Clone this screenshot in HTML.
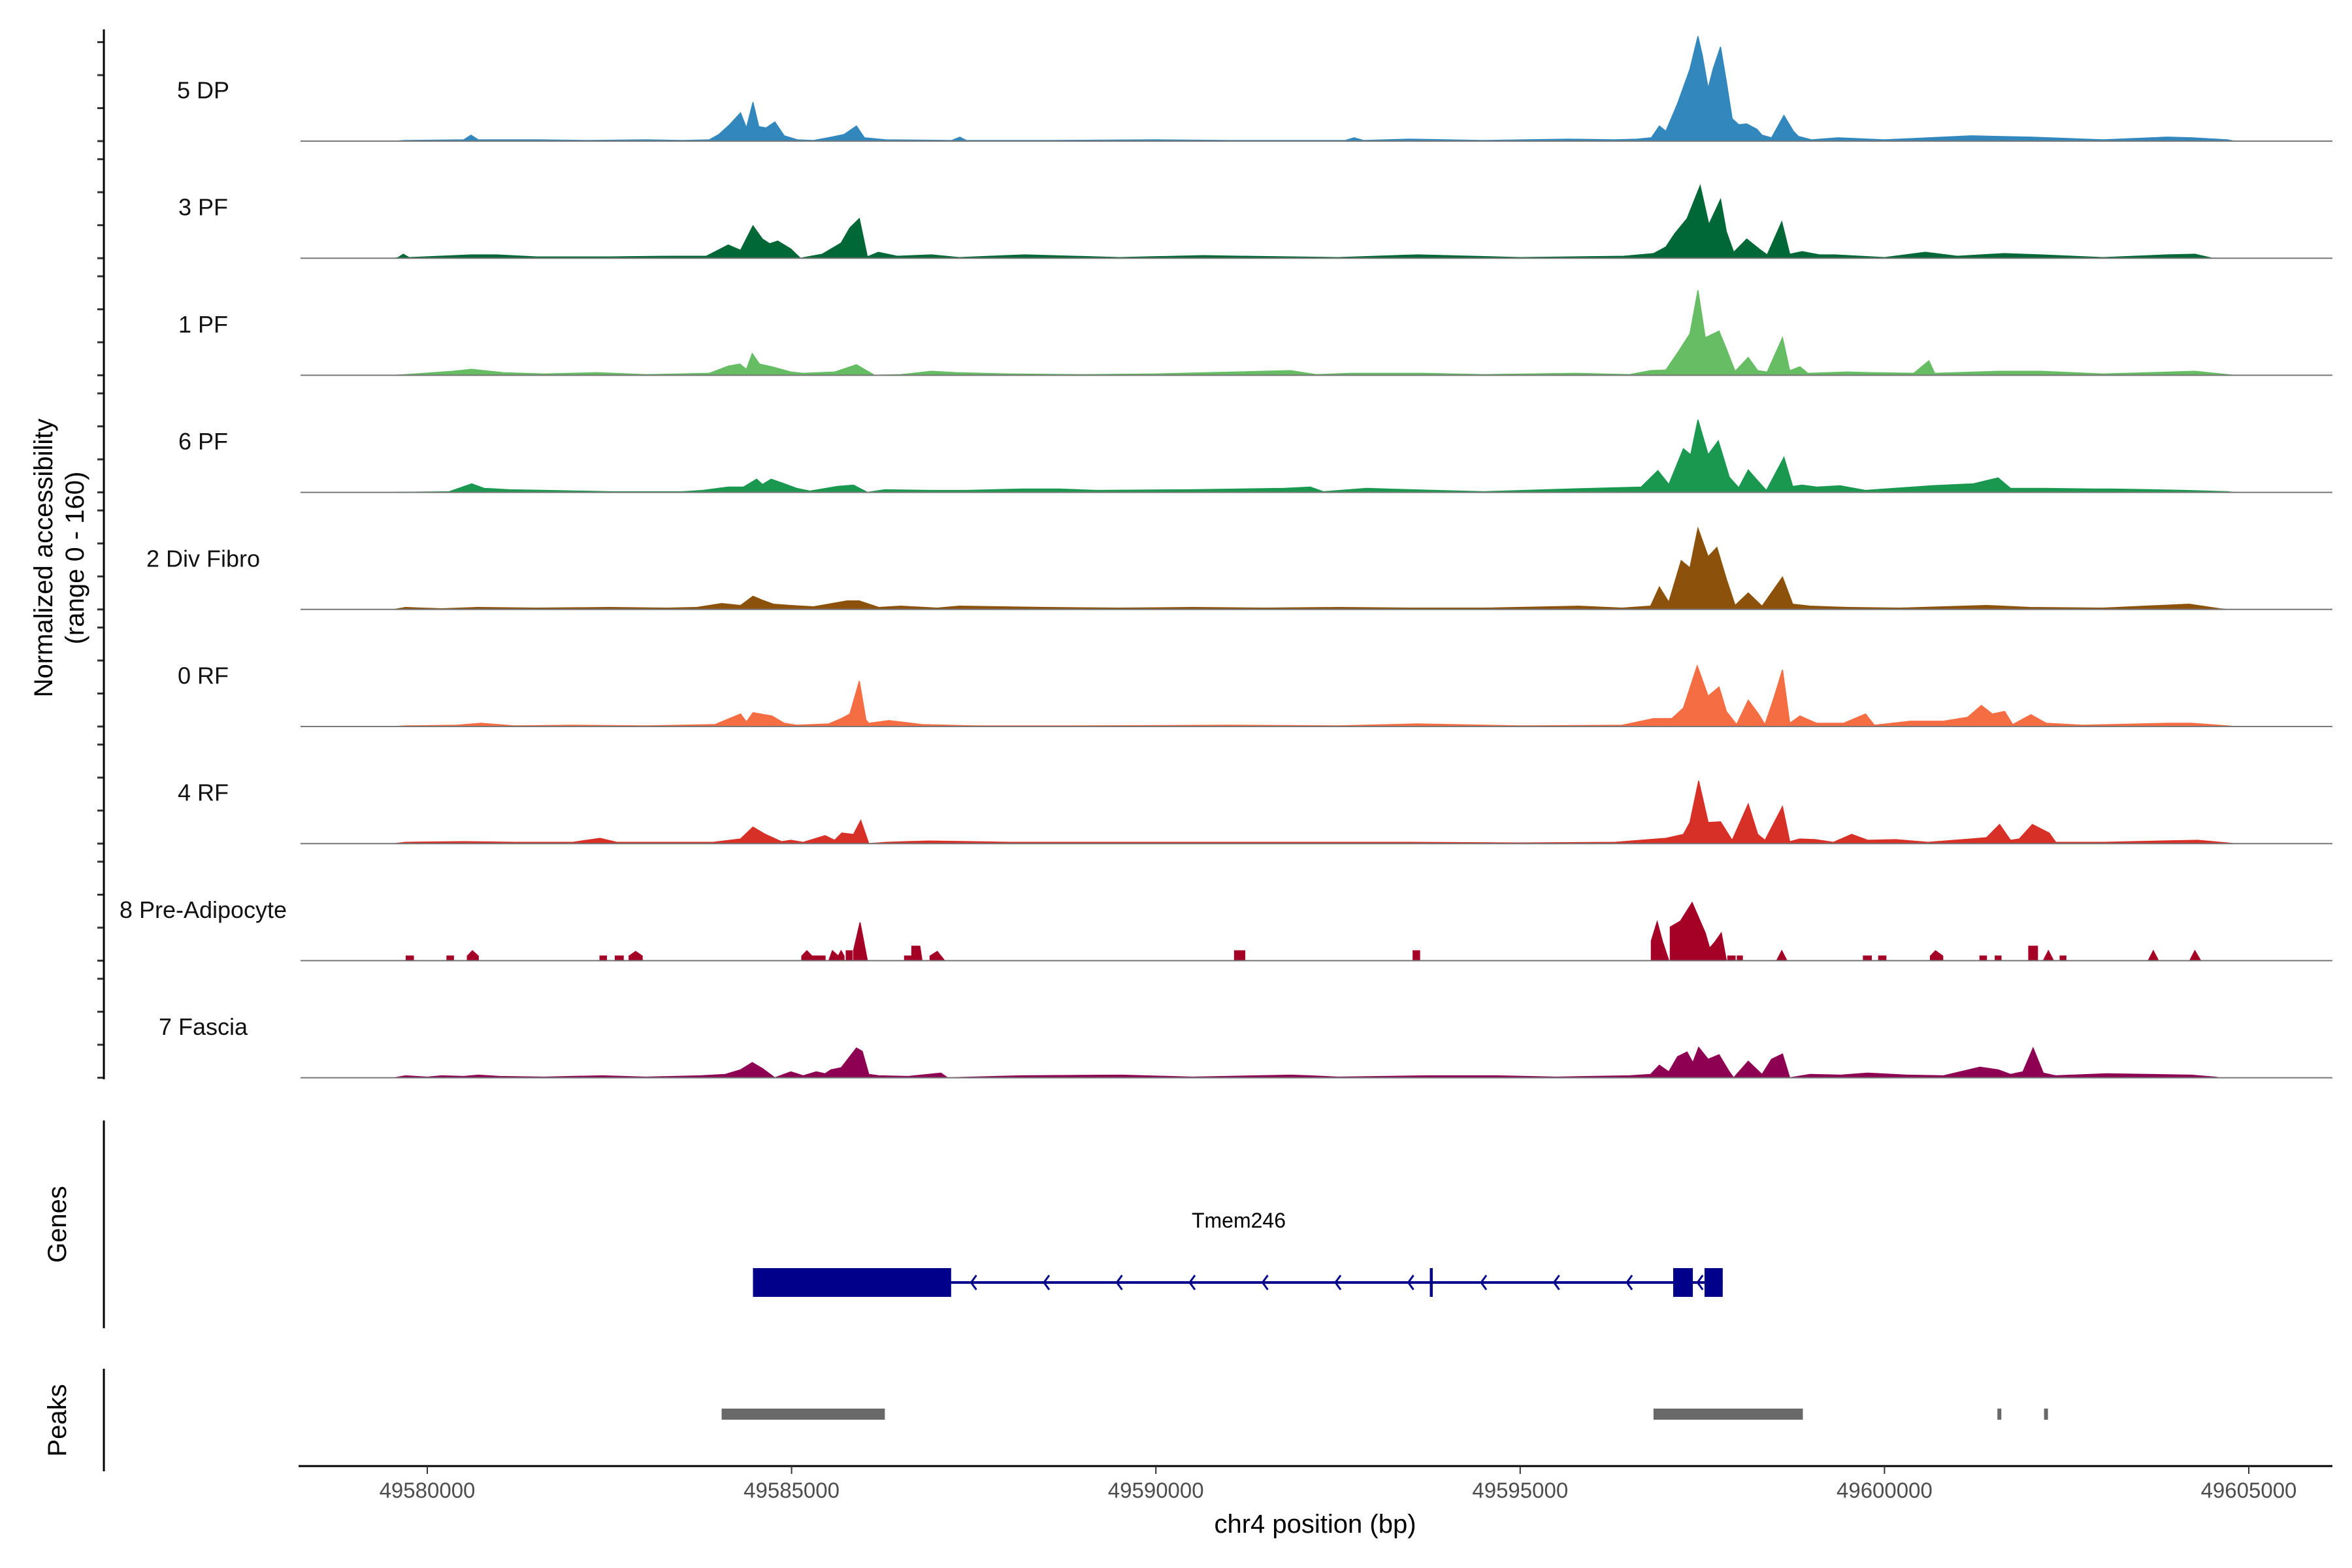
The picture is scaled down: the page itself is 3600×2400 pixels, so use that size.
<!DOCTYPE html>
<html><head><meta charset="utf-8">
<style>
html,body{margin:0;padding:0;background:#fff;}
svg{display:block;font-family:"Liberation Sans",Arial,sans-serif;}
</style></head>
<body>
<svg id="chart" width="3600" height="2400" viewBox="0 0 3600 2400" xmlns="http://www.w3.org/2000/svg">
<rect width="3600" height="2400" fill="#fff"/>
<g id="tracks"></g>
<g id="yaxis"></g>
<text transform="translate(67,854) rotate(-90)" text-anchor="middle" dominant-baseline="central" font-size="40" fill="#000">Normalized accessibility</text>
<text transform="translate(115,854) rotate(-90)" text-anchor="middle" dominant-baseline="central" font-size="40" fill="#000">(range 0 - 160)</text>
<g id="genes"></g>
<line x1="159" y1="1715" x2="159" y2="2033" stroke="#000" stroke-width="3"/>
<text transform="translate(88,1874) rotate(-90)" text-anchor="middle" dominant-baseline="central" font-size="40" fill="#000">Genes</text>
<g id="peaks"></g>
<line x1="159" y1="2095" x2="159" y2="2252" stroke="#000" stroke-width="3"/>
<text transform="translate(88,2174) rotate(-90)" text-anchor="middle" dominant-baseline="central" font-size="40" fill="#000">Peaks</text>
<g id="xaxis"></g>
<text x="2013" y="2333" text-anchor="middle" dominant-baseline="central" font-size="40" fill="#000">chr4 position (bp)</text>
</svg>
<script>
// positions in kb relative to 49,580,000 ; values in normalized accessibility
const trackNames = ["5 DP","3 PF","1 PF","6 PF","2 Div Fibro","0 RF","4 RF","8 Pre-Adipocyte","7 Fascia"];
const trackColors = ["#3288BD","#006837","#66BD63","#1A9850","#8C510A","#F46D43","#D73027","#A50026","#8E0152"];
const dp5 = [[-0.45,0],[-0.3,1],[0.5,2],[0.6,9],[0.7,2],[1.5,2],[2.2,1],[3.0,2],[3.5,1],[3.87,2],[4.0,10],[4.15,25],[4.3,43],[4.38,20],[4.47,59],[4.55,22],[4.65,20],[4.77,29],[4.9,8],[5.08,2],[5.3,1],[5.5,5],[5.72,10],[5.89,23],[6.0,5],[6.3,2],[7.2,1],[7.31,6],[7.4,1],[8.5,1],[10,2],[11,1],[12.6,1],[12.72,5],[12.85,1],[13.47,3],[14.5,1],[15.66,3],[16.3,2],[16.6,3],[16.8,5],[16.91,23],[17.0,15],[17.16,57],[17.33,109],[17.44,159],[17.5,130],[17.58,80],[17.65,110],[17.75,143],[17.83,90],[17.91,34],[18.0,25],[18.11,26],[18.25,18],[18.32,9],[18.45,5],[18.62,39],[18.75,15],[18.82,7],[19.0,2],[19.36,5],[20,2],[21.19,8],[22.01,6],[23,2],[23.88,6],[24.21,5],[24.71,2],[24.8,0]];
const pf3 = [[-0.45,0],[-0.4,1],[-0.33,6],[-0.25,1],[0.61,5],[0.95,5],[1.5,2],[2.5,2],[3.35,3],[3.83,3],[4.13,20],[4.3,12],[4.47,49],[4.6,29],[4.7,22],[4.81,26],[4.99,14],[5.12,0],[5.42,6],[5.68,23],[5.8,46],[5.93,60],[6.04,2],[6.19,9],[6.45,3],[6.92,5],[7.3,1],[8.2,5],[9.5,1],[10.65,4],[11.16,3],[12.5,1],[13.59,5],[15,1],[16.42,3],[16.83,7],[17.0,17],[17.12,37],[17.29,60],[17.47,110],[17.59,51],[17.75,89],[17.83,40],[17.93,9],[18.11,29],[18.28,14],[18.39,5],[18.59,55],[18.7,6],[18.87,10],[19.11,5],[19.32,5],[20,1],[20.56,9],[21.0,3],[21.64,7],[22.14,5],[23,1],[23.88,5],[24.26,6],[24.46,1],[24.5,0]];
const pf1 = [[-0.45,0],[-0.3,1],[0.35,6],[0.61,9],[1.04,4],[1.6,2],[2.33,4],[3.0,1],[3.87,3],[4.13,14],[4.29,17],[4.38,9],[4.46,33],[4.56,17],[4.73,13],[4.99,5],[5.16,3],[5.59,5],[5.89,16],[6.14,0],[6.5,1],[6.92,6],[7.26,4],[8,2],[9,1],[10,2],[11.85,7],[12.2,1],[12.68,3],[13.68,3],[14.5,1],[15.76,3],[16.5,1],[16.79,7],[17.0,8],[17.16,34],[17.33,63],[17.44,129],[17.54,57],[17.73,67],[17.83,40],[17.95,6],[18.13,27],[18.26,7],[18.39,5],[18.6,57],[18.7,7],[18.84,13],[18.95,3],[19.49,5],[19.82,4],[20.4,3],[20.61,22],[20.69,3],[21.56,6],[22.14,6],[23,2],[24.26,6],[24.71,1],[24.8,0]];
const pf6 = [[-0.45,0],[0.3,1],[0.61,13],[0.78,6],[1.13,4],[1.64,3],[2.5,1],[3.5,1],[3.78,3],[4.13,8],[4.34,8],[4.52,20],[4.6,12],[4.72,20],[4.9,13],[5.07,6],[5.25,2],[5.63,9],[5.85,11],[6.04,0],[6.28,4],[6.9,3],[7.4,3],[8.16,5],[8.68,5],[9.19,3],[10.48,4],[11.76,6],[12.12,8],[12.3,1],[12.89,6],[13.51,4],[14.5,1],[15.67,5],[16.0,6],[16.66,8],[16.89,33],[17.04,12],[17.24,66],[17.34,57],[17.44,110],[17.58,57],[17.72,78],[17.87,23],[18.0,7],[18.13,34],[18.24,20],[18.38,3],[18.62,53],[18.74,9],[18.87,11],[19.07,8],[19.39,10],[19.74,3],[20.64,10],[21.22,13],[21.56,22],[21.73,6],[22.18,6],[22.88,5],[23.13,5],[24.13,3],[24.71,1],[24.8,0]];
const fibro2 = [[-0.45,0],[-0.3,3],[0.2,1],[0.7,3],[1.5,2],[2.5,3],[3.3,2],[3.7,3],[4.04,9],[4.3,6],[4.47,20],[4.6,14],[4.75,8],[4.99,6],[5.3,4],[5.76,13],[5.93,13],[6.2,3],[6.5,5],[7.0,2],[7.3,5],[8.5,3],[9.5,2],[10.5,3],[11.5,2],[12.5,3],[13.5,2],[14.5,2],[15.79,5],[16.4,2],[16.79,5],[16.91,34],[17.04,11],[17.21,74],[17.33,63],[17.44,123],[17.58,80],[17.7,94],[17.83,46],[17.95,6],[18.13,25],[18.32,5],[18.6,49],[18.74,8],[18.98,5],[19.5,3],[20.2,2],[21.4,6],[22,3],[23,2],[24.18,8],[24.6,1],[24.7,0]];
const rf0 = [[-0.45,0],[-0.3,1],[0.4,2],[0.74,5],[1.2,1],[2.0,2],[3.0,1],[3.95,3],[4.3,19],[4.38,7],[4.47,21],[4.73,16],[4.9,5],[5.07,2],[5.51,4],[5.68,12],[5.8,19],[5.93,69],[6.02,10],[6.06,5],[6.34,9],[6.79,3],[7.5,1],[9,1],[11,2],[12.5,1],[13.59,4],[15,1],[16.4,2],[16.83,12],[17.08,12],[17.24,28],[17.43,92],[17.58,46],[17.73,60],[17.83,23],[17.97,3],[18.13,40],[18.27,19],[18.36,3],[18.49,46],[18.6,86],[18.7,5],[18.84,16],[19.07,5],[19.44,5],[19.74,19],[19.86,2],[20.36,8],[20.81,8],[21.14,14],[21.33,32],[21.48,19],[21.65,23],[21.76,3],[22.01,18],[22.22,5],[22.72,2],[23.88,5],[24.21,5],[24.71,1],[24.8,0]];
const rf4 = [[-0.45,0],[-0.3,2],[0.5,3],[1.2,2],[2.0,2],[2.37,8],[2.6,2],[3.3,2],[3.92,2],[4.3,7],[4.47,25],[4.64,14],[4.86,3],[4.99,5],[5.16,2],[5.46,12],[5.59,5],[5.69,16],[5.85,14],[5.95,35],[6.06,0],[6.3,2],[6.88,4],[8,2],[10,2],[12,2],[13.5,2],[15,1],[16.3,2],[17.0,8],[17.24,14],[17.33,32],[17.45,95],[17.58,32],[17.75,33],[17.91,5],[18.13,60],[18.26,14],[18.36,5],[18.6,56],[18.7,3],[18.84,7],[19.05,6],[19.3,2],[19.55,14],[19.77,5],[20.15,6],[20.6,2],[21.19,7],[21.4,9],[21.58,29],[21.73,5],[21.85,7],[22.03,29],[22.26,16],[22.35,2],[23,2],[24.3,5],[24.71,1],[24.8,0]];
const preAdipo = [[-0.29,0],[-0.29,7],[-0.19,7],[-0.19,0],[0.27,0],[0.27,7],[0.36,7],[0.36,0],[0.55,0],[0.55,7],[0.62,15],[0.7,7],[0.7,0],[2.37,0],[2.37,7],[2.46,7],[2.46,0],[2.58,0],[2.58,7],[2.69,7],[2.69,0],[2.77,0],[2.77,7],[2.86,14],[2.95,7],[2.95,0],[5.14,0],[5.14,7],[5.21,15],[5.28,7],[5.46,7],[5.46,0],[5.51,0],[5.56,15],[5.64,7],[5.68,15],[5.72,7],[5.72,0],[5.75,0],[5.75,15],[5.83,15],[5.83,0],[5.85,0],[5.85,15],[5.94,58],[6.04,0],[6.55,0],[6.55,7],[6.65,7],[6.65,22],[6.76,22],[6.79,0],[6.9,0],[6.9,7],[7.0,14],[7.1,0],[11.08,0],[11.08,15],[11.22,15],[11.22,0],[13.53,0],[13.53,15],[13.62,15],[13.62,0],[16.8,0],[16.8,30],[16.88,59],[16.95,30],[17.04,0],[17.06,0],[17.06,51],[17.2,60],[17.36,88],[17.45,65],[17.54,42],[17.6,19],[17.67,28],[17.76,42],[17.83,0],[17.85,0],[17.85,7],[17.95,7],[17.95,0],[17.98,0],[17.98,7],[18.05,7],[18.05,0],[18.52,0],[18.59,15],[18.66,0],[19.71,0],[19.71,7],[19.82,7],[19.82,0],[19.92,0],[19.92,7],[20.02,7],[20.02,0],[20.63,0],[20.63,7],[20.7,15],[20.8,7],[20.8,0],[21.31,0],[21.31,7],[21.4,7],[21.4,0],[21.52,0],[21.52,7],[21.6,7],[21.6,0],[21.98,0],[21.98,22],[22.1,22],[22.1,0],[22.18,0],[22.25,15],[22.32,0],[22.41,0],[22.41,7],[22.49,7],[22.49,0],[23.62,0],[23.69,15],[23.76,0],[24.19,0],[24.26,15],[24.34,0]];
const fascia7 = [[-0.45,0],[-0.3,3],[0.0,1],[0.2,3],[0.5,2],[0.7,4],[1.0,2],[1.6,1],[2.4,3],[3.0,1],[3.75,3],[4.09,5],[4.3,12],[4.46,23],[4.6,14],[4.77,0],[4.99,9],[5.16,3],[5.34,9],[5.46,6],[5.54,12],[5.68,15],[5.89,45],[5.97,40],[6.06,5],[6.2,3],[6.6,2],[7.05,7],[7.14,0],[8.16,3],[9.53,4],[10.5,1],[11.85,4],[12.11,3],[12.5,1],[13.76,3],[14.67,3],[15.5,1],[16.5,3],[16.79,5],[16.91,19],[17.04,9],[17.16,32],[17.29,39],[17.37,23],[17.45,46],[17.58,28],[17.73,35],[17.87,9],[17.93,0],[18.13,25],[18.32,5],[18.45,28],[18.6,36],[18.7,0],[18.98,5],[19.4,4],[19.77,7],[20.31,4],[20.81,3],[21.31,16],[21.56,12],[21.73,5],[21.9,9],[22.04,45],[22.18,7],[22.35,3],[23.05,6],[24.21,4],[24.54,1],[24.6,0]];
const trackData = [dp5, pf3, pf1, pf6, fibro2, rf0, rf4, preAdipo, fascia7];
const yTicks = [0,50,100,150];
const xTicks = [0,5,10,15,20,25];
const xTickLabels = ["49580000","49585000","49590000","49595000","49600000","49605000"];
const geneExons = [[4.47,7.19],[13.76,13.80],[17.10,17.37],[17.53,17.78]];
const geneSpan = [4.47,17.78];
const arrowsKb = [7.5,8.5,9.5,10.5,11.5,12.5,13.5,14.5,15.5,16.5,17.47];
const peakStarts = [4.04,16.83,21.55,22.19];
const peakEnds = [6.28,18.88,21.60,22.24];

const NS = "http://www.w3.org/2000/svg";
function xS(kb){ return 654 + 111.52*kb; }
function base(i){ return 216 + 179.2*i; }
function yS(i,v){ return base(i) - 1.01*v; }
function mk(tag, attrs, parent){ const e=document.createElementNS(NS,tag); for(const k in attrs) e.setAttribute(k,attrs[k]); parent.appendChild(e); return e; }

const gT = document.getElementById('tracks');
const gY = document.getElementById('yaxis');
trackData.forEach((d,i)=>{
  let p = "M"+xS(d[0][0]).toFixed(1)+","+base(i).toFixed(1);
  d.forEach(pt=>{ p += " L"+xS(pt[0]).toFixed(1)+","+yS(i,pt[1]).toFixed(1); });
  p += " L"+xS(d[d.length-1][0]).toFixed(1)+","+base(i).toFixed(1)+" Z";
  const area = mk('path',{d:p, fill:trackColors[i], stroke:trackColors[i], 'stroke-width':1.5}, gT);
  
  
  const bl = mk('line',{x1:460,x2:3570,y1:base(i),y2:base(i),stroke:'#777','stroke-width':2}, gT);
  
  
  const lab = mk('text',{x:311,y:base(i)-78,'text-anchor':'middle','dominant-baseline':'central','font-size':36,fill:'#111'}, gT);
  lab.textContent = trackNames[i];
  
  
  yTicks.forEach(t=>{
    const tk = mk('line',{x1:149,x2:159,y1:yS(i,t),y2:yS(i,t),stroke:'#333','stroke-width':3}, gY);
    
    
  });
});
const yl = mk('line',{x1:159,x2:159,y1:45,y2:1652,stroke:'#000','stroke-width':3}, gY);



// genes
const gG = document.getElementById('genes');
const gl = mk('line',{x1:xS(geneSpan[0]),x2:xS(geneSpan[1]),y1:1963,y2:1963,stroke:'#00008B','stroke-width':4}, gG);


geneExons.forEach(e=>{
  const r = mk('rect',{x:xS(e[0]),y:1941,width:Math.max(4,xS(e[1])-xS(e[0])),height:44,fill:'#00008B'}, gG);
  
  
});
arrowsKb.forEach(a=>{
  const x = xS(a);
  const ar = mk('path',{d:`M${x+4},${1952} L${x-4},${1963} L${x+4},${1974}`,fill:'none',stroke:'#00008B','stroke-width':3}, gG);
  
  
});
const gn = mk('text',{x:1896,y:1868,'text-anchor':'middle','dominant-baseline':'central','font-size':32,fill:'#000'}, gG);
gn.textContent = 'Tmem246';



// peaks
const gP = document.getElementById('peaks');
peakStarts.forEach((s,i)=>{
  const r = mk('rect',{x:xS(s),y:2156,width:Math.max(6,xS(peakEnds[i])-xS(s)),height:17,fill:'#696969'}, gP);
  
  
});

// x axis
const gX = document.getElementById('xaxis');
const xl = mk('line',{x1:457,x2:3570,y1:2244,y2:2244,stroke:'#000','stroke-width':3}, gX);


xTicks.forEach((t,i)=>{
  const tk = mk('line',{x1:xS(t),x2:xS(t),y1:2244,y2:2256,stroke:'#333','stroke-width':2}, gX);
  
  
  const tl = mk('text',{x:xS(t),y:2281,'text-anchor':'middle','dominant-baseline':'central','font-size':33,fill:'#4D4D4D'}, gX);
  tl.textContent = xTickLabels[i];
  
  
});
</script>
</body></html>
